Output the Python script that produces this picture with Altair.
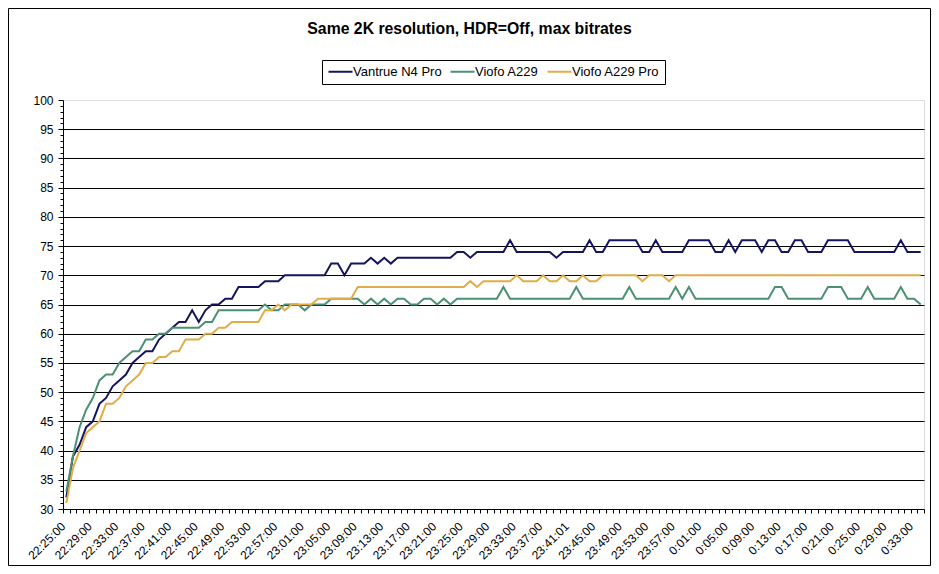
import json
import altair as alt
import pandas as pd

# ---- data (one sample per minute) ----
series_names = ["Vantrue N4 Pro", "Viofo A229", "Viofo A229 Pro"]
series_colors = ["#15155f", "#4b9073", "#e2ac48"]

vantrue_n4_pro = [
    32, 39, 41, 44, 45, 48, 49, 51, 52, 53,
    55, 56, 57, 57, 59, 60, 61, 62, 62, 64,
    62, 64, 65, 65, 66, 66, 68, 68, 68, 68,
    69, 69, 69, 70, 70, 70, 70, 70, 70, 70,
    72, 72, 70, 72, 72, 72, 73, 72, 73, 72,
    73, 73, 73, 73, 73, 73, 73, 73, 73, 74,
    74, 73, 74, 74, 74, 74, 74, 76, 74, 74,
    74, 74, 74, 74, 73, 74, 74, 74, 74, 76,
    74, 74, 76, 76, 76, 76, 76, 74, 74, 76,
    74, 74, 74, 74, 76, 76, 76, 76, 74, 74,
    76, 74, 76, 76, 76, 74, 76, 76, 74, 74,
    76, 76, 74, 74, 74, 76, 76, 76, 76, 74,
    74, 74, 74, 74, 74, 74, 76, 74, 74, 74,
]

viofo_a229 = [
    33, 39, 44, 47, 49, 52, 53, 53, 55, 56,
    57, 57, 59, 59, 60, 60, 61, 61, 61, 61,
    61, 62, 62, 64, 64, 64, 64, 64, 64, 64,
    65, 64, 64, 65, 65, 65, 64, 65, 65, 65,
    66, 66, 66, 66, 66, 65, 66, 65, 66, 65,
    66, 66, 65, 65, 66, 66, 65, 66, 65, 66,
    66, 66, 66, 66, 66, 66, 68, 66, 66, 66,
    66, 66, 66, 66, 66, 66, 66, 68, 66, 66,
    66, 66, 66, 66, 66, 68, 66, 66, 66, 66,
    66, 66, 68, 66, 68, 66, 66, 66, 66, 66,
    66, 66, 66, 66, 66, 66, 66, 68, 68, 66,
    66, 66, 66, 66, 66, 68, 68, 68, 66, 66,
    66, 68, 66, 66, 66, 66, 68, 66, 66, 65,
]

viofo_a229_pro = [
    31, 37, 40, 43, 44, 45, 48, 48, 49, 51,
    52, 53, 55, 55, 56, 56, 57, 57, 59, 59,
    59, 60, 60, 61, 61, 62, 62, 62, 62, 62,
    64, 64, 65, 64, 65, 65, 65, 65, 66, 66,
    66, 66, 66, 66, 68, 68, 68, 68, 68, 68,
    68, 68, 68, 68, 68, 68, 68, 68, 68, 68,
    68, 69, 68, 69, 69, 69, 69, 69, 70, 69,
    69, 69, 70, 69, 69, 70, 69, 69, 70, 69,
    69, 70, 70, 70, 70, 70, 70, 69, 70, 70,
    70, 69, 70, 70, 70, 70, 70, 70, 70, 70,
    70, 70, 70, 70, 70, 70, 70, 70, 70, 70,
    70, 70, 70, 70, 70, 70, 70, 70, 70, 70,
    70, 70, 70, 70, 70, 70, 70, 70, 70, 70,
]

# category-axis labels (every 4th sample is labelled)
x_labels = [
    "22:25:00", "22:29:00", "22:33:00", "22:37:00", "22:41:00", "22:45:00",
    "22:49:00", "22:53:00", "22:57:00", "23:01:00", "23:05:00", "23:09:00",
    "23:13:00", "23:17:00", "23:21:00", "23:25:00", "23:29:00", "23:33:00",
    "23:37:00", "23:41:01", "23:45:00", "23:49:00", "23:53:00", "23:57:00",
    "0:01:00", "0:05:00", "0:09:00", "0:13:00", "0:17:00", "0:21:00",
    "0:25:00", "0:29:00", "0:33:00",
]
label_every = 4
y_ticks = list(range(30, 101))

title_text = "Same 2K resolution, HDR=Off, max bitrates"
FONT = "Liberation Sans"

# ---- build table ----
rows = []
for name, vals in zip(series_names, [vantrue_n4_pro, viofo_a229, viofo_a229_pro]):
    for i, v in enumerate(vals):
        rows.append({"idx": i, "value": v, "series": name})
df = pd.DataFrame(rows)
n = len(vantrue_n4_pro)

W, H = 861, 409

# ticks sit on category boundaries, labels on every 4th boundary
tick_vals = [k - 0.5 for k in range(n + 1)]
label_expr = (
    f"((datum.value + 0.5) % {label_every} == 0 && (datum.value + 0.5) / {label_every} < {len(x_labels)})"
    f" ? {json.dumps(x_labels)}[(datum.value + 0.5) / {label_every}] : ''"
)

x_enc = alt.X(
    "idx:Q",
    scale=alt.Scale(domain=[-0.5, n - 0.5], nice=False, zero=False),
    axis=alt.Axis(
        values=tick_vals,
        labelExpr=label_expr,
        title=None,
        grid=False,
        tickSize=4,
        tickColor="black",
        domainColor="black",
        labelAngle=315,
        labelAlign="right",
        labelBaseline="middle",
        labelPadding=11,
        labelOverlap=False,
        labelFlush=False,
        labelBound=False,
        labelFont=FONT,
        labelFontSize=12,
        labelColor="black",
    ),
)

y_enc = alt.Y(
    "value:Q",
    scale=alt.Scale(domain=[30, 100], nice=False, zero=False),
    axis=alt.Axis(
        values=y_ticks,
        labelExpr="datum.value % 5 == 0 ? datum.label : ''",
        title=None,
        grid=True,
        gridColor="black",
        gridWidth=1,
        gridOpacity={
            "condition": {"test": "datum.value % 5 == 0 && datum.value > 30 && datum.value < 100", "value": 1},
            "value": 0,
        },
        tickSize={"condition": {"test": "datum.value % 5 == 0", "value": 5}, "value": 3},
        tickColor="black",
        domainColor="black",
        labelPadding=5,
        labelOverlap=False,
        labelFont=FONT,
        labelFontSize=12,
        labelColor="black",
    ),
)

lines = alt.Chart(df).mark_line(strokeWidth=2).encode(
    x=x_enc,
    y=y_enc,
    color=alt.Color(
        "series:N",
        scale=alt.Scale(domain=series_names, range=series_colors),
        sort=series_names,
        legend=alt.Legend(
            title=None,
            orient="none",
            legendX=259,
            legendY=-40,
            direction="horizontal",
            strokeColor="black",
            fillColor="white",
            padding=5,
            symbolType="M-1,0H3.8",
            symbolSize=100,
            symbolStrokeWidth=2,
            labelOffset=13,
            columnPadding=4,
            labelFont=FONT,
            labelFontSize=13,
            labelColor="black",
        ),
    ),
)

frame = alt.Chart(pd.DataFrame({"f": [0]})).mark_rect(
    color="white", fillOpacity=0, stroke="black", strokeWidth=1
).encode(
    x=alt.value(-54.5), x2=alt.value(W + 6.5),
    y=alt.value(-91.5), y2=alt.value(H + 56.5),
)

chart = (
    alt.layer(frame, lines)
    .properties(
        width=W,
        height=H,
        autosize=alt.AutoSizeParams(type="none"),
        padding={"left": 55, "top": 92, "right": 7, "bottom": 57},
        title=alt.TitleParams(
            text=title_text,
            font=FONT,
            fontSize=15.8,
            fontWeight="bold",
            color="black",
            anchor="middle",
            frame="group",
            dx=-24,
            offset=-41.5,
            baseline="alphabetic",
        ),
    )
    .configure_view(stroke="#808080", strokeWidth=1)
    .configure(font=FONT, background="white")
)

chart.save("out.html", embed_options={"renderer": "svg", "actions": False})
